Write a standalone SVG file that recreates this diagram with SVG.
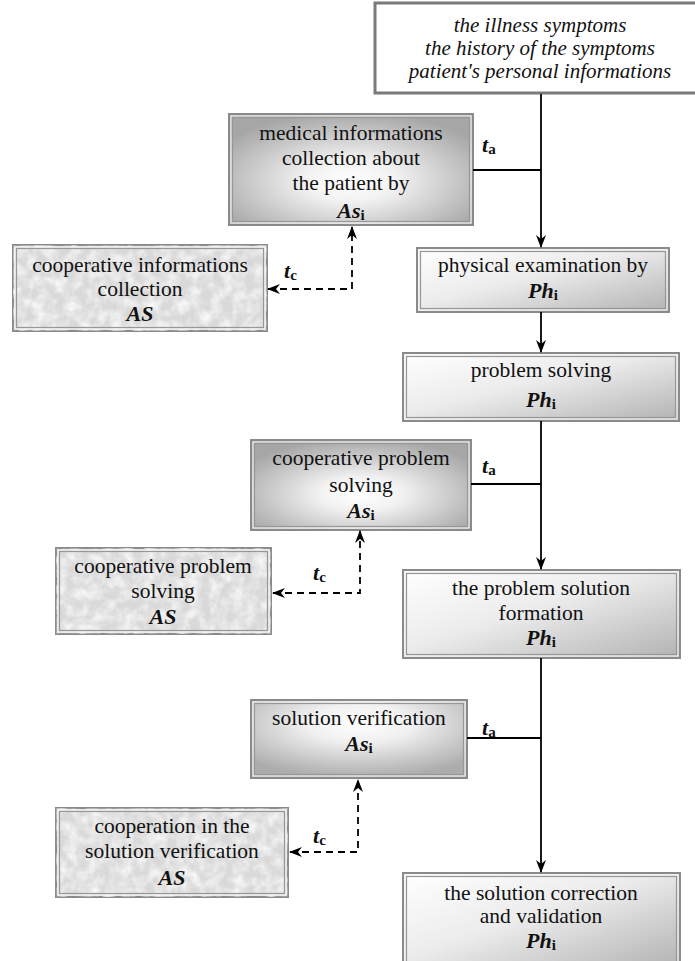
<svg xmlns="http://www.w3.org/2000/svg" width="695" height="961" viewBox="0 0 695 961">
<style>
text{font-family:'Liberation Serif','Tinos','DejaVu Serif',serif;fill:#111}
.t{font-size:21.5px;text-anchor:middle}
.ti{font-size:21px;font-style:italic;text-anchor:middle}
.b{font-size:22px;font-weight:bold;font-style:italic;text-anchor:middle}
.lb{font-size:22px;font-weight:bold;font-style:italic}
.sub{font-style:normal;font-size:15px}
.o{stroke:#8a8a8a;stroke-width:2}
.g{fill:none;stroke:#f4f4f4;stroke-width:1.2}
.in{fill:none;stroke:#979797;stroke-width:1.2}
.ln{fill:none;stroke:#000;stroke-width:1.8}
.ds{fill:none;stroke:#000;stroke-width:1.8;stroke-dasharray:7,5}
</style>
<defs>
<linearGradient id="gPh" x1="0" y1="0" x2="1" y2="1">
<stop offset="0" stop-color="#ffffff"/>
<stop offset="0.45" stop-color="#ececec"/>
<stop offset="1" stop-color="#b2b2b2"/>
</linearGradient>
<radialGradient id="gAs" cx="0.5" cy="0.6" r="0.62">
<stop offset="0" stop-color="#ffffff"/>
<stop offset="0.3" stop-color="#f2f2f2"/>
<stop offset="1" stop-color="#a6a6a6"/>
</radialGradient>
<radialGradient id="gAs2" cx="0.5" cy="0.3" r="0.7">
<stop offset="0" stop-color="#ffffff"/>
<stop offset="0.35" stop-color="#f0f0f0"/>
<stop offset="1" stop-color="#acacac"/>
</radialGradient>
<filter id="marble" x="0" y="0" width="100%" height="100%">
<feTurbulence type="fractalNoise" baseFrequency="0.09" numOctaves="3" seed="4" result="n"/>
<feColorMatrix in="n" type="matrix" values="0 0 0 0 1  0 0 0 0 1  0 0 0 0 1  0 0 0 1.6 -0.55"/>
<feComposite in2="SourceGraphic" operator="in"/>
</filter>
<marker id="ah" viewBox="0 0 13 10" refX="12" refY="5" markerWidth="13" markerHeight="10" markerUnits="userSpaceOnUse" orient="auto-start-reverse">
<path d="M0,0 L13,5 L0,10 L4,5 z" fill="#000"/>
</marker>
</defs>

<g id="n-symptoms">
<rect x="375" y="3" width="335" height="90" fill="#fff" stroke="#7a7a7a" stroke-width="3"/>
<text class="ti" x="540" y="32" font-family="Liberation Serif, serif">the illness symptoms</text>
<text class="ti" x="540" y="55" font-family="Liberation Serif, serif">the history of the symptoms</text>
<text class="ti" x="540" y="78" font-family="Liberation Serif, serif">patient's personal informations</text>
</g>

<g id="n-medical">
<rect class="o" x="229" y="114" width="244" height="111" fill="url(#gAs)"/>
<rect class="g" x="231" y="116" width="240" height="107"/>
<rect class="in" x="232.5" y="117.5" width="237" height="104"/>
<text class="t" x="351" y="140">medical informations</text>
<text class="t" x="351" y="165">collection about</text>
<text class="t" x="351" y="190">the patient by</text>
<text class="b" x="351" y="218">As<tspan class="sub" dy="2">i</tspan></text>
</g>

<g id="n-coop-info">
<rect class="o" x="13" y="245" width="254" height="86" fill="#d9d9d9"/>
<rect x="13" y="245" width="254" height="86" fill="#fff" filter="url(#marble)"/>
<rect class="g" x="15" y="247" width="250" height="82"/>
<rect class="in" x="16.5" y="248.5" width="247" height="79"/>
<text class="t" x="140" y="272">cooperative informations</text>
<text class="t" x="140" y="296">collection</text>
<text class="b" x="140" y="321">AS</text>
</g>

<g id="n-physical">
<rect class="o" x="417" y="248" width="252" height="64" fill="url(#gPh)"/>
<rect class="g" x="419" y="250" width="248" height="60"/>
<rect class="in" x="420.5" y="251.5" width="245" height="57"/>
<text class="t" x="543" y="272">physical examination by</text>
<text class="b" x="543" y="298">Ph<tspan class="sub" dy="2">i</tspan></text>
</g>

<g id="n-problem">
<rect class="o" x="403" y="353" width="276" height="68" fill="url(#gPh)"/>
<rect class="g" x="405" y="355" width="272" height="64"/>
<rect class="in" x="406.5" y="356.5" width="269" height="61"/>
<text class="t" x="541" y="377">problem solving</text>
<text class="b" x="541" y="407">Ph<tspan class="sub" dy="2">i</tspan></text>
</g>

<g id="n-coop-ps-as">
<rect class="o" x="251" y="440" width="220" height="90" fill="url(#gAs)"/>
<rect class="g" x="253" y="442" width="216" height="86"/>
<rect class="in" x="254.5" y="443.5" width="213" height="83"/>
<text class="t" x="361" y="465">cooperative problem</text>
<text class="t" x="361" y="492">solving</text>
<text class="b" x="361" y="518">As<tspan class="sub" dy="2">i</tspan></text>
</g>

<g id="n-coop-ps-AS">
<rect class="o" x="56" y="548" width="215" height="86" fill="#d9d9d9"/>
<rect x="56" y="548" width="215" height="86" fill="#fff" filter="url(#marble)"/>
<rect class="g" x="58" y="550" width="211" height="82"/>
<rect class="in" x="59.5" y="551.5" width="208" height="79"/>
<text class="t" x="163" y="573">cooperative problem</text>
<text class="t" x="163" y="598">solving</text>
<text class="b" x="163" y="624">AS</text>
</g>

<g id="n-formation">
<rect class="o" x="403" y="570" width="277" height="88" fill="url(#gPh)"/>
<rect class="g" x="405" y="572" width="273" height="84"/>
<rect class="in" x="406.5" y="573.5" width="270" height="81"/>
<text class="t" x="541" y="595">the problem solution</text>
<text class="t" x="541" y="620">formation</text>
<text class="b" x="541" y="645">Ph<tspan class="sub" dy="2">i</tspan></text>
</g>

<g id="n-verification">
<rect class="o" x="251" y="700" width="216" height="78" fill="url(#gAs2)"/>
<rect class="g" x="253" y="702" width="212" height="74"/>
<rect class="in" x="254.5" y="703.5" width="209" height="71"/>
<text class="t" x="359" y="725">solution verification</text>
<text class="b" x="359" y="751">As<tspan class="sub" dy="2">i</tspan></text>
</g>

<g id="n-coop-verif">
<rect class="o" x="56" y="808" width="232" height="89" fill="#d9d9d9"/>
<rect x="56" y="808" width="232" height="89" fill="#fff" filter="url(#marble)"/>
<rect class="g" x="58" y="810" width="228" height="85"/>
<rect class="in" x="59.5" y="811.5" width="225" height="82"/>
<text class="t" x="172" y="833">cooperation in the</text>
<text class="t" x="172" y="858">solution verification</text>
<text class="b" x="172" y="885">AS</text>
</g>

<g id="n-correction">
<rect class="o" x="403" y="873" width="277" height="95" fill="url(#gPh)"/>
<rect class="g" x="405" y="875" width="273" height="91"/>
<rect class="in" x="406.5" y="876.5" width="270" height="88"/>
<text class="t" x="541" y="900">the solution correction</text>
<text class="t" x="541" y="923">and validation</text>
<text class="b" x="541" y="948">Ph<tspan class="sub" dy="2">i</tspan></text>
</g>

<g id="connectors">
<path class="ln" d="M541,94 V247" marker-end="url(#ah)"/>
<path class="ln" d="M473,170 H541"/>
<path class="ds" d="M268,289 H352 V227" marker-start="url(#ah)" marker-end="url(#ah)"/>
<path class="ln" d="M541,312 V352" marker-end="url(#ah)"/>
<path class="ln" d="M541,421 V569" marker-end="url(#ah)"/>
<path class="ln" d="M471,484 H541"/>
<path class="ds" d="M273,593 H360 V531" marker-start="url(#ah)" marker-end="url(#ah)"/>
<path class="ln" d="M541,658 V872" marker-end="url(#ah)"/>
<path class="ln" d="M467,738 H541"/>
<path class="ds" d="M290,852 H358 V780" marker-start="url(#ah)" marker-end="url(#ah)"/>
<text class="lb" x="482" y="152">t<tspan class="sub" dy="2">a</tspan></text>
<text class="lb" x="482" y="473">t<tspan class="sub" dy="2">a</tspan></text>
<text class="lb" x="482" y="735">t<tspan class="sub" dy="2">a</tspan></text>
<text class="lb" x="284" y="278">t<tspan class="sub" dy="2">c</tspan></text>
<text class="lb" x="313" y="580">t<tspan class="sub" dy="2">c</tspan></text>
<text class="lb" x="313" y="843">t<tspan class="sub" dy="2">c</tspan></text>
</g>
</svg>
